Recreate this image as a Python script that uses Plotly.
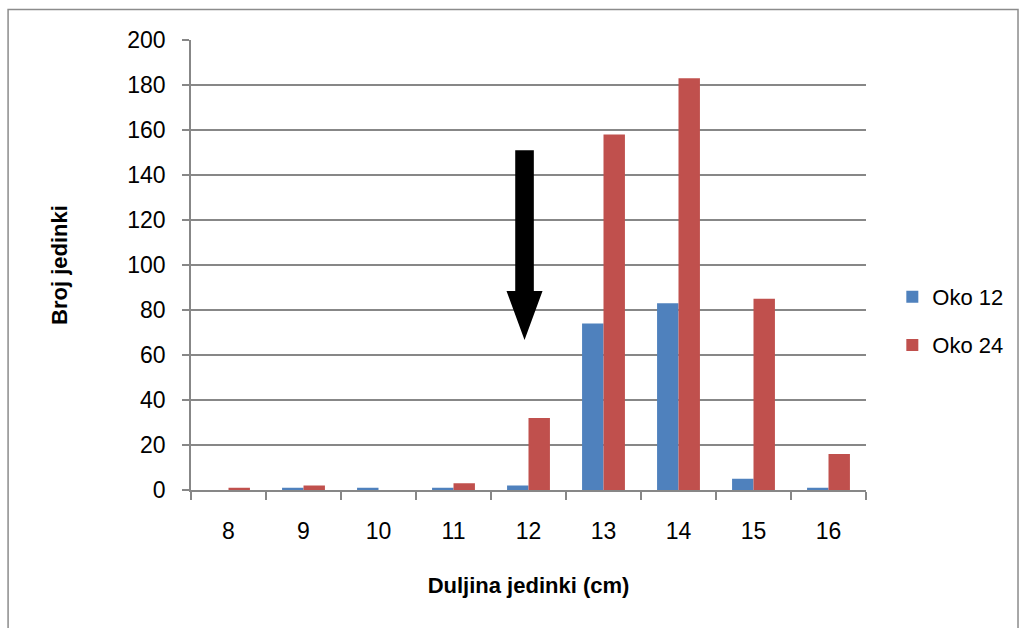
import plotly.graph_objects as go

categories = ["8", "9", "10", "11", "12", "13", "14", "15", "16"]
oko12 = [0, 1, 1, 1, 2, 74, 83, 5, 1]
oko24 = [1, 2, 0, 3, 32, 158, 183, 85, 16]
y_ticks = [0, 20, 40, 60, 80, 100, 120, 140, 160, 180, 200]

FONT = "Liberation Sans"
grid = "#878787"

fig = go.Figure()
fig.add_trace(go.Bar(x=categories, y=oko12, name="Oko 12", marker_color="#4F81BD",
                     marker_line_width=0, legend="legend", showlegend=True))
fig.add_trace(go.Bar(x=categories, y=oko24, name="Oko 24", marker_color="#C0504D",
                     marker_line_width=0, legend="legend2", showlegend=True))

# arrow pointing down at category "12" (index 4)
cx = 4 - 0.053
sw, hw = 0.124, 0.24
top, base, tip = 151, 88.4, 66.7
path = (f"M {cx-sw},{top} L {cx+sw},{top} L {cx+sw},{base} L {cx+hw},{base} "
        f"L {cx},{tip} L {cx-hw},{base} L {cx-sw},{base} Z")
fig.add_shape(type="path", path=path, xref="x", yref="y", fillcolor="black",
              line=dict(color="black", width=0))

# outer chart frame
fig.add_shape(type="rect", xref="paper", yref="paper", x0=-0.271, x1=1.2252, y0=-1, y1=1.0678,
              line=dict(color="#8c8c8c", width=1.5), fillcolor="rgba(0,0,0,0)", layer="below")

fig.update_layout(
    width=1019, height=628,
    margin=dict(l=191, r=153, t=40, b=138, autoexpand=False),
    paper_bgcolor="white", plot_bgcolor="white",
    showlegend=True,
    barmode="group", bargap=0.4286, bargroupgap=0,
    font=dict(family=FONT, size=23, color="black"),
    xaxis=dict(type="category", showgrid=False, showline=True, linecolor=grid, linewidth=1.5,
               ticks="outside", tickson="boundaries", ticklen=8, tickcolor=grid, tickwidth=1.5,
               tickfont=dict(size=23), ticklabelstandoff=20, automargin=False,
               title=dict(text="<b>Duljina jedinki (cm)</b>", font=dict(size=22), standoff=34)),
    yaxis=dict(range=[0, 200], tickvals=y_ticks, showgrid=True, gridcolor=grid, gridwidth=1.5,
               showline=True, linecolor=grid, linewidth=1.5, zeroline=False,
               ticks="outside", ticklen=7, tickcolor=grid, tickwidth=1.5,
               tickfont=dict(size=23), ticklabelstandoff=12, automargin=False,
               title=dict(text="<b>Broj jedinki</b>", font=dict(size=22), standoff=54)),
    legend=dict(x=1.039, y=0.429, xanchor="left", yanchor="middle", font=dict(size=22),
                bgcolor="rgba(0,0,0,0)"),
    legend2=dict(x=1.039, y=0.322, xanchor="left", yanchor="middle", font=dict(size=22),
                 bgcolor="rgba(0,0,0,0)"),
)

fig.write_html(
    "out.html",
    config={"displayModeBar": False},
    post_script=("document.body.style.margin='0';"
                 "document.body.style.overflow='hidden';"
                 "document.documentElement.style.overflow='hidden';"),
)
